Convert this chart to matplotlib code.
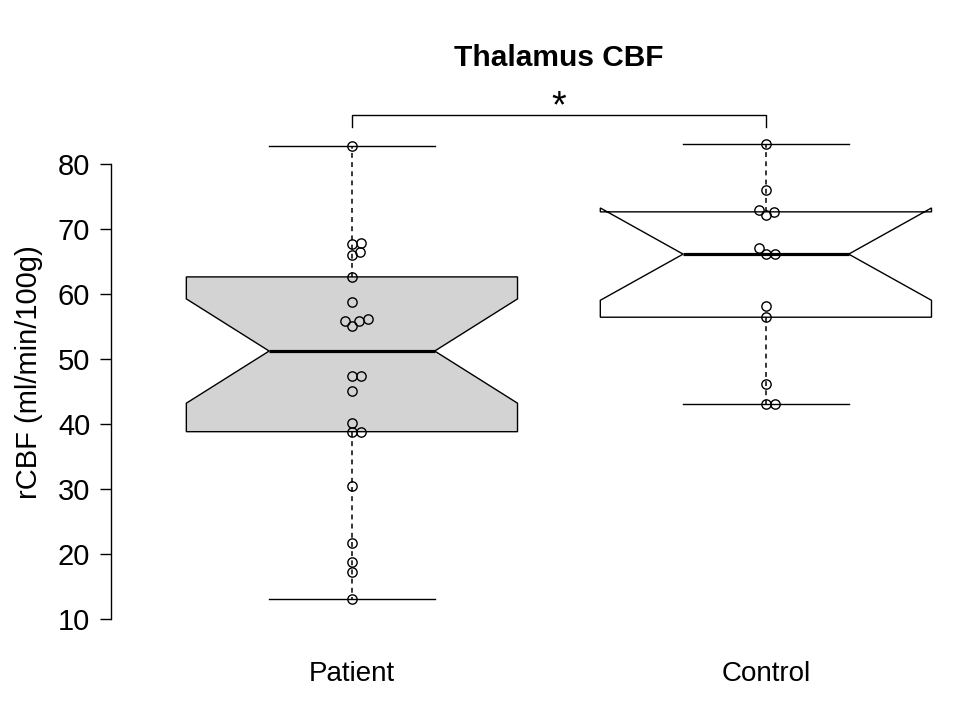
"""Notched boxplot with beeswarm points: thalamus CBF, patients vs controls."""
import matplotlib

matplotlib.use("Agg")
import matplotlib.pyplot as plt
import numpy as np

# Values (rCBF, ml/min/100g)
groups = ["Patient", "Control"]
patient = [82.7, 67.8, 67.7, 66.4, 66.0, 62.6, 58.7, 55.8, 55.0, 55.8, 56.1,
           47.3, 47.4, 45.0, 40.2, 38.8, 38.8, 30.5, 21.7, 18.7, 17.3, 13.1]
control = [83.0, 76.0, 72.9, 72.1, 72.6, 67.0, 66.1, 66.1, 58.1, 56.4,
           46.2, 43.0, 43.0]
fills = ["#d3d3d3", "white"]
yticks = [10, 20, 30, 40, 50, 60, 70, 80]


def fivenum(x):
    """Tukey five-number summary, like R's fivenum."""
    x = np.sort(np.asarray(x, dtype=float))
    n = len(x)
    n4 = np.floor((n + 3) / 2) / 2
    d = np.array([1, n4, (n + 1) / 2, n + 1 - n4, n]) - 1
    return 0.5 * (x[np.floor(d).astype(int)] + x[np.ceil(d).astype(int)])


def box_stats(x, label):
    lo, q1, med, q3, hi = fivenum(x)
    iqr = q3 - q1
    arr = np.asarray(x)
    whislo = arr[arr >= q1 - 1.5 * iqr].min()
    whishi = arr[arr <= q3 + 1.5 * iqr].max()
    half = 1.58 * iqr / np.sqrt(len(arr))
    return dict(label=label, med=med, q1=q1, q3=q3, whislo=whislo, whishi=whishi,
                cilo=med - half, cihi=med + half, fliers=[])


def swarm(ax, vals, center, d):
    """Place points without overlap, ascending order, nearest to the centre."""
    pts = ax.transData.transform(np.column_stack([np.full(len(vals), center), vals]))
    ys = pts[:, 1]
    placed = []
    offs = np.zeros(len(vals))
    for i in np.argsort(vals, kind="stable"):
        y = ys[i]
        cands = [0.0]
        for xo, yo in placed:
            dy = abs(y - yo)
            if dy < d:
                dx = np.sqrt(d * d - dy * dy)
                cands += [xo + dx, xo - dx]
        cands.sort(key=lambda c: (round(abs(c), 6), -c))
        for c in cands:
            if all((c - xo) ** 2 + (y - yo) ** 2 >= d * d - 1e-6 for xo, yo in placed):
                break
        placed.append((c, y))
        offs[i] = c
    px_per_unit = ax.transData.transform((1, 0))[0] - ax.transData.transform((0, 0))[0]
    return center + offs / px_per_unit


def main():
    plt.rcParams["font.family"] = ["Liberation Sans", "DejaVu Sans"]

    fig = plt.figure(figsize=(9.6, 7.2), dpi=100)
    # plot region roughly as R lays it out (right side runs off the canvas)
    ax = fig.add_axes([111 / 960, 1 - 619 / 720, 895 / 960, 493 / 720])

    stats = [box_stats(patient, groups[0]), box_stats(control, groups[1])]
    bp = ax.bxp(stats, positions=[1, 2], widths=0.8, shownotches=True,
                patch_artist=True, showfliers=False,
                boxprops=dict(linewidth=1.0, edgecolor="black"),
                medianprops=dict(color="black", linewidth=2.3, solid_capstyle="butt"),
                whiskerprops=dict(color="black", linewidth=1.1, linestyle=(0, (3.2, 2.8))),
                capprops=dict(color="black", linewidth=1.0))
    for patch, fc in zip(bp["boxes"], fills):
        patch.set_facecolor(fc)

    ax.set_xlim(0.418, 2.58)
    ax.set_ylim(10.3, 85.8)

    for pos, vals in zip([1, 2], [patient, control]):
        xs = swarm(ax, vals, pos, 8.9)
        ax.plot(xs, vals, "o", ms=6.7, mfc="none", mec="black", mew=1.0,
                zorder=5, clip_on=False)

    # significance bracket
    ax.plot([1, 1, 2, 2], [85.7, 87.5, 87.5, 85.7], color="black", lw=1.0,
            clip_on=False)
    ax.annotate("*", xy=(1.5, 87.5), xytext=(0, -2), textcoords="offset points",
                ha="center", va="baseline", fontsize=27, annotation_clip=False)

    for side in ["top", "right", "bottom"]:
        ax.spines[side].set_visible(False)
    ax.spines["left"].set_bounds(10, 80)
    ax.spines["left"].set_linewidth(1.0)
    ax.set_yticks(yticks)
    ax.set_yticklabels([str(t) for t in yticks])
    ax.tick_params(axis="y", labelsize=21, length=8, width=1.0, pad=7)
    ax.set_xticks([1, 2])
    ax.set_xticklabels(groups)
    ax.tick_params(axis="x", labelsize=20, length=0, pad=30)
    ax.set_ylabel("rCBF (ml/min/100g)", fontsize=21)
    ax.yaxis.set_label_coords(-68 / 895, 0.5)

    fig.text(559 / 960, 1 - 66 / 720, "Thalamus CBF", ha="center", va="baseline",
             fontsize=21.5, fontweight="bold")

    fig.savefig("out.png", dpi=100)


if __name__ == "__main__":
    main()
